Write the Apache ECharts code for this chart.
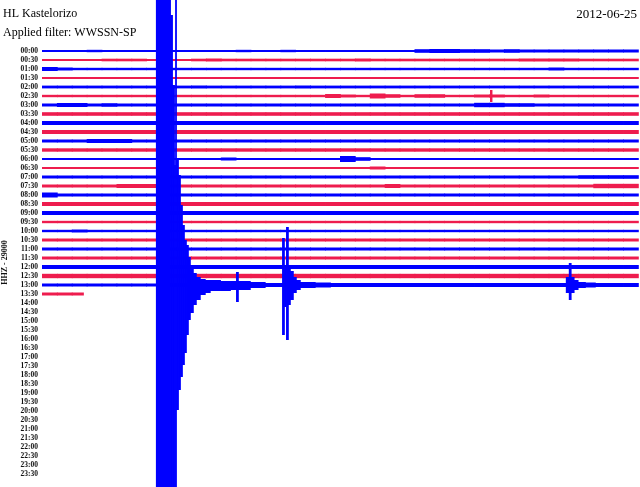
<!DOCTYPE html>
<html>
<head>
<meta charset="utf-8">
<script src="https://cdn.jsdelivr.net/npm/echarts@6/dist/echarts.min.js"></script>
<style>html,body{margin:0;padding:0;background:#fff;}#c{width:640px;height:487px;}</style>
</head>
<body>
<div id="c"></div>
<script>
// ---- tick labels (one per 30-minute trace line) ----
const timeLabels = ['00:00','00:30','01:00','01:30','02:00','02:30','03:00','03:30','04:00','04:30','05:00','05:30',
  '06:00','06:30','07:00','07:30','08:00','08:30','09:00','09:30','10:00','10:30','11:00','11:30',
  '12:00','12:30','13:00','13:30','14:00','14:30','15:00','15:30','16:00','16:30','17:00','17:30',
  '18:00','18:30','19:00','19:30','20:00','20:30','21:00','21:30','22:00','22:30','23:00','23:30'];

// ---- noise envelope per trace line: amplitude (counts) in 45-second bins (40 bins = 30 min) ----
const amp0000 = [1,1,1,1.2,1,1,1,1,1,1,1,1,1,1.2,1,1,1.2,1,1,1,1,1,1,1,1,1.8,2,2,1.8,1.8,1.5,1.8,1.5,1.5,1.5,1.5,1.5,1.5,1.5,1.5];
const amp0030 = [1,1,1,1,1.3,1.3,1.3,1,1,1,1.3,1.5,1.3,1.3,1.3,1.3,1.3,1.3,1.3,1.3,1.3,1.5,1.3,1.3,1.3,1.3,1.3,1.3,1.3,1.3,1.3,1.3,1.5,1.5,1.5,1.5,1.3,1.3,1.3,1.3];
const amp0100 = [2,1.5,1.2,1.2,1.2,1.2,1.2,1.2,1.2,1.2,1.2,1.2,1.2,1.2,1.2,1.2,1.2,1.2,1.2,1.2,1.2,1.2,1.2,1.2,1.2,1.2,1.2,1.2,1.2,1.2,1.2,1.2,1.2,1.2,1.5,1.2,1.2,1.2,1.2,1.2];
const amp0130 = [1,1,1,1,1,1,1,1,1,1,1,1,1,1,1,1,1,1,1,1,1,1,1,1,1,1,1,1,1,1,1,1,1,1,1,1,1,1,1,1];
const amp0200 = [1.4,1.4,1.4,1.4,1.4,1.4,1.4,1.4,1.4,1.4,1.5,1.4,1.4,1.4,1.4,1.4,1.4,1.5,1.4,1.4,1.4,1.4,1.4,1.4,1.4,1.4,1.4,1.4,1.4,1.4,1.4,1.4,1.4,1.4,1.4,1.4,1.4,1.4,1.4,1.4];
const amp0230 = [1.2,1.2,1.2,1.2,1.2,1.2,1.2,1.2,1.2,1.2,1.2,1.2,1.2,1.2,1.2,1.2,1.2,1.2,1.2,2,1.5,1.2,2.5,1.8,1.2,1.8,1.8,1.2,1.2,1.5,1.5,1.2,1.2,1.5,1.2,1.2,1.2,1.2,1.2,1.2];
const amp0300 = [1.5,2,2,1.5,1.8,1.5,1.5,1.5,1.5,1.5,1.5,1.5,1.5,1.5,1.5,1.5,1.5,1.5,1.5,1.5,1.5,1.5,1.5,1.5,1.5,1.5,1.5,1.5,1.5,2.2,2.2,1.8,1.8,1.5,1.5,1.5,1.5,1.5,1.5,1.5];
const amp0330 = [1.8,1.8,1.8,1.8,1.8,1.8,1.8,1.8,1.8,1.8,1.8,1.8,1.8,1.8,1.8,1.8,1.8,1.8,1.8,1.8,1.8,1.8,1.8,1.8,1.8,1.8,1.8,1.8,1.8,1.8,1.8,1.8,1.8,1.8,1.8,1.8,1.8,1.8,1.8,1.8];
const amp0400 = [2,2,2,2,2,2,2,2,2,2,2,2,2,2,2,2,2,2,2,2,2,2,2,2,2,2,2,2,2,2,2,2,2,2,2,2,2,2,2,2];
const amp0430 = [2,2,2,2,2,2,2,2,2,2,2,2,2,2,2,2,2,2,2,2,2,2,2,2,2,2,2,2,2,2,2,2,2,2,2,2,2,2,2,2];
const amp0500 = [1.5,1.5,1.5,2,2,2,1.5,1.5,1.5,1.5,1.5,1.5,1.5,1.5,1.5,1.5,1.5,1.5,1.5,1.5,1.5,1.5,1.5,1.5,1.5,1.5,1.5,1.5,1.5,1.5,1.5,1.5,1.5,1.5,1.5,1.5,1.5,1.5,1.5,1.5];
const amp0530 = [1.7,1.7,1.7,1.7,1.7,1.7,1.7,1.7,1.7,1.7,1.7,1.7,1.7,1.7,1.7,1.7,1.7,1.7,1.7,1.7,1.7,1.7,1.7,1.7,1.7,1.7,1.7,1.7,1.7,1.7,1.7,1.7,1.7,1.7,1.7,1.7,1.7,1.7,1.7,1.7];
const amp0600 = [1,1,1,1,1,1,1,1,1,1,1,1,1.5,1,1,1,1,1,1,1,3,1.8,1,1,1,1,1,1,1,1,1,1,1,1,1,1,1,1,1,1];
const amp0630 = [1,1,1,1,1,1,1,1,1,1,1,1,1,1,1,1,1,1,1,1,1,1,1.5,1,1,1,1,1,1,1,1,1,1,1,1,1,1,1,1,1];
const amp0700 = [1.5,1.5,1.5,1.5,1.5,1.5,1.5,1.5,1.5,1.5,1.5,1.5,1.5,1.5,1.5,1.5,1.5,1.5,1.5,1.5,1.5,1.5,1.5,1.5,1.5,1.5,1.5,1.5,1.5,1.5,1.5,1.5,1.5,1.5,1.5,1.5,1.8,1.8,1.8,1.8];
const amp0730 = [1.5,1.5,1.5,1.5,1.5,2,2,2,1.5,1.5,1.5,1.5,1.5,1.5,1.5,1.5,1.5,1.5,1.5,1.5,1.5,1.5,1.5,2,1.5,1.5,1.5,1.5,1.5,1.5,1.5,1.5,1.5,1.5,1.5,1.5,1.5,2.2,2.2,2.2];
const amp0800 = [2.5,1.5,1.5,1.5,1.5,1.5,1.5,1.5,1.5,1.5,1.5,1.5,1.5,1.5,1.5,1.5,1.5,1.5,1.5,1.5,1.5,1.5,1.5,1.5,1.5,1.5,1.5,1.5,1.5,1.5,1.5,1.5,1.5,1.5,1.5,1.5,1.5,1.5,1.5,1.5];
const amp0830 = [2,2,2,2,2,2,2,2,2,2,2,2,2,2,2,2,2,2,2,2,2,2,2,2,2,2,2,2,2,2,2,2,2,2,2,2,2,2,2,2];
const amp0900 = [2,2,2,2,2,2,2,2,2,2,2,2,2,2,2,2,2,2,2,2,2,2,2,2,2,2,2,2,2,2,2,2,2,2,2,2,2,2,2,2];
const amp0930 = [1.2,1.2,1.2,1.2,1.2,1.2,1.2,1.2,1.2,1.2,1.2,1.2,1.2,1.2,1.2,1.2,1.2,1.2,1.2,1.2,1.2,1.2,1.2,1.2,1.2,1.2,1.2,1.2,1.2,1.2,1.2,1.2,1.2,1.2,1.2,1.2,1.2,1.2,1.2,1.2];
const amp1000 = [1.2,1.2,1.5,1.2,1.2,1.2,1.2,1.2,1.2,1.2,1.2,1.2,1.2,1.2,1.2,1.2,1.2,1.2,1.2,1.2,1.2,1.2,1.2,1.2,1.2,1.2,1.2,1.2,1.2,1.2,1.2,1.2,1.2,1.2,1.2,1.2,1.2,1.2,1.2,1.2];
const amp1030 = [1.5,1.5,1.5,1.5,1.5,1.5,1.5,1.5,1.5,1.5,1.5,1.5,1.5,1.5,1.5,1.5,1.5,1.5,1.5,1.5,1.5,1.5,1.5,1.5,1.5,1.5,1.5,1.5,1.5,1.5,1.5,1.5,1.5,1.5,1.5,1.5,1.5,1.5,1.5,1.5];
const amp1100 = [1.5,1.5,1.5,1.5,1.5,1.5,1.5,1.5,1.5,1.5,1.5,1.5,1.5,1.5,1.5,1.5,1.5,1.5,1.5,1.5,1.5,1.5,1.5,1.5,1.5,1.5,1.5,1.5,1.5,1.5,1.5,1.5,1.5,1.5,1.5,1.5,1.5,1.5,1.5,1.5];
const amp1130 = [1.5,1.5,1.5,1.5,1.5,1.5,1.5,1.5,1.5,1.5,1.5,1.5,1.5,1.5,1.5,1.5,1.5,1.5,1.5,1.5,1.5,1.5,1.5,1.5,1.5,1.5,1.5,1.5,1.5,1.5,1.5,1.5,1.5,1.5,1.5,1.5,1.5,1.5,1.5,1.5];
const amp1200 = [2,2,2,2,2,2,2,2,2,2,2,2,2,2,2,2,2,2,2,2,2,2,2,2,2,2,2,2,2,2,2,2,2,2,2,2,2,2,2,2];
const amp1230 = [2.2,2.2,2.2,2.2,2.2,2.2,2.2,2.2,2.2,2.2,2.2,2.2,2.2,2.2,2.2,2.2,2.2,2.2,2.2,2.2,2.2,2.2,2.2,2.2,2.2,2.2,2.2,2.2,2.2,2.2,2.2,2.2,2.2,2.2,2.2,2.2,2.2,2.2,2.2,2.2];
const amp1300 = [1.5,1.5,1.5,1.5,1.5,1.5,1.5,1.5,2,2,2,2,2,2,2,2,2,2,2,2,2,2,2,2,2,2,2,2,2,2,2,2,2,2,2,2,2,2,2,2];
const amp1330 = [1.5,1.5,1.5];
const lastRecordTime = 124; // seconds into the 13:30 line where the recording ends

// ---- large events on the 13:00 line: segment start time (s), amplitude up / down (counts) ----
const quakeTime = [344, 387, 393, 399, 402, 405, 411, 417, 423, 429, 435, 441, 447, 456, 465, 477, 492, 507, 538, 568, 586, 592, 598, 628, 673,
  725, 731, 737, 743, 749, 758, 767, 779, 794, 824, 870,
  1582, 1591, 1597, 1606, 1618, 1640, 1670];
const quakeUp   = [330, 270, 200, 120, 290, 125, 110, 80, 60, 45, 40, 28, 20, 12, 8, 6, 5, 5, 4, 4, 13, 4, 4, 3, 0,
  47, 20, 58, 18, 14, 8, 5, 3, 3, 2.5, 0,
  8, 22, 8, 5, 3, 2.5, 0];
const quakeDown = [260, 260, 240, 210, 202, 125, 105, 92, 80, 68, 50, 35, 28, 20, 15, 10, 8, 6, 6, 5, 17, 5, 5, 3, 0,
  50, 22, 55, 20, 15, 8, 5, 3, 3, 2.5, 0,
  8, 15, 8, 5, 3, 2.5, 0];

// ---- isolated spikes on other lines ----
const spikeRow  = [5];
const spikeTime = [1353];
const spikeUp   = [6];
const spikeDown = [6];

const rowAmps = [amp0000, amp0030, amp0100, amp0130, amp0200, amp0230, amp0300, amp0330, amp0400, amp0430, amp0500, amp0530,
  amp0600, amp0630, amp0700, amp0730, amp0800, amp0830, amp0900, amp0930, amp1000, amp1030, amp1100, amp1130,
  amp1200, amp1230, amp1300, amp1330];

const BIN = 45, SPAN = 1800, SPACING = 9;
const BLUE = '#0000ff', RED = '#ee1c4e';

const noiseData = [];
rowAmps.forEach((arr, r) => {
  arr.forEach((a, k) => {
    let t0 = k * BIN, t1 = (k + 1) * BIN;
    if (r === rowAmps.length - 1) t1 = Math.min(t1, lastRecordTime);
    noiseData.push([t0, t1, r * SPACING, a, a, r]);
  });
});
const QUAKE_ROW = 26;
const quakeData = [];
for (let i = 0; i < quakeTime.length - 1; i++) {
  if (quakeUp[i] === 0 && quakeDown[i] === 0) continue;
  quakeData.push([quakeTime[i], quakeTime[i + 1], QUAKE_ROW * SPACING, quakeUp[i], quakeDown[i], QUAKE_ROW]);
}
spikeRow.forEach((r, i) => {
  quakeData.push([spikeTime[i], spikeTime[i] + 5, r * SPACING, spikeUp[i], spikeDown[i], r]);
});

function renderEnv(params, api) {
  const t0 = api.value(0), t1 = api.value(1), base = api.value(2), up = api.value(3), dn = api.value(4), r = api.value(5);
  const p0 = api.coord([t0, base - up]);
  const p1 = api.coord([t1, base + dn]);
  return {
    type: 'rect',
    shape: { x: p0[0], y: p0[1], width: p1[0] - p0[0] + 0.8, height: p1[1] - p0[1] },
    style: { fill: r % 2 === 0 ? BLUE : RED }
  };
}

const chart = echarts.init(document.getElementById('c'));
chart.setOption({
  backgroundColor: '#ffffff',
  animation: false,
  title: [
    { text: 'HL Kastelorizo', left: 3, top: 8, padding: 0, textStyle: { fontFamily: 'Liberation Serif', fontSize: 12, fontWeight: 'normal', color: '#000' } },
    { text: 'Applied filter: WWSSN-SP', left: 3, top: 27, padding: 0, textStyle: { fontFamily: 'Liberation Serif', fontSize: 12, fontWeight: 'normal', color: '#000' } },
    { text: '2012-06-25', right: 3, top: 8, padding: 0, textStyle: { fontFamily: 'Liberation Serif', fontSize: 13, fontWeight: 'normal', color: '#000' } }
  ],
  grid: [
    { left: 42, right: 2, top: 0, bottom: 0, show: false },
    { left: 42, width: 1, top: 46.5, height: 432, show: false }
  ],
  xAxis: [
    { gridIndex: 0, type: 'value', min: 0, max: SPAN, show: false },
    { gridIndex: 1, type: 'value', min: 0, max: 1, show: false }
  ],
  yAxis: [
    { gridIndex: 0, type: 'value', inverse: true, min: -51, max: 436, show: false },
    { gridIndex: 1, type: 'category', inverse: true, data: timeLabels,
      axisLine: { show: false }, axisTick: { show: false }, splitLine: { show: false },
      axisLabel: { interval: 0, margin: 5, fontFamily: 'Liberation Serif', fontWeight: 'bold', fontSize: 7.5, color: '#111' },
      name: 'HHZ - 29000', nameLocation: 'middle', nameGap: 34, nameRotate: 90,
      nameTextStyle: { fontFamily: 'Liberation Serif', fontWeight: 'bold', fontSize: 8, color: '#111' } }
  ],
  series: [
    { type: 'custom', xAxisIndex: 0, yAxisIndex: 0, renderItem: renderEnv, data: noiseData, z: 2, silent: true },
    { type: 'custom', xAxisIndex: 0, yAxisIndex: 0, renderItem: renderEnv, data: quakeData, z: 3, silent: true }
  ]
});
</script>
</body>
</html>
